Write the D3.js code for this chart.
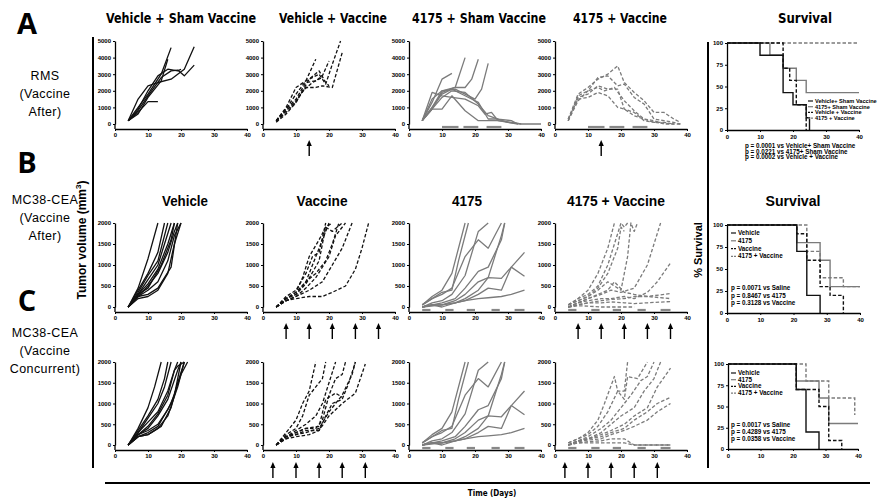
<!DOCTYPE html>
<html>
<head>
<meta charset="utf-8">
<script src="https://cdn.jsdelivr.net/npm/d3@7"></script>
<style>
  body { margin: 0; background: #fff; }
  svg { font-family: "Liberation Sans", Arial, sans-serif; }
</style>
</head>
<body>
<div id="chart"></div>
<script>
// ---------- tumor growth, one [day, volume] list per mouse ----------
// A: RMS (vaccine after)
const rmsVehicleSham = [
  [[4,200],[7,700],[10,1350],[13,1350]],
  [[4,200],[7,1000],[10,1800],[14,3000],[17,4600]],
  [[4,200],[7,1500],[10,2300],[13,2500],[17,2700],[21,3300],[24,4650]],
  [[4,200],[7,800],[10,1700],[14,2800],[17,3200],[19,3250],[21,2900],[24,3550]],
  [[4,200],[7,600],[10,1600],[14,2600],[16,3900]],
  [[4,200],[7,900],[10,2000],[13,2900],[16,3300],[19,3200],[20,3300]]
];
const rmsVehicleVaccine = [
  [[4,200],[7,900],[10,1800],[13,2600],[16,3900]],
  [[4,200],[7,1000],[10,2200],[13,2600],[17,3000],[19,2400],[21,3600],[23.5,5000]],
  [[4,150],[7,800],[10,1400],[13,2200],[16,2200],[18,2300],[21,2200],[24,4300]],
  [[4,200],[7,700],[10,1300],[14,2700],[17,3200],[19,2500],[20,2300]],
  [[4,200],[7,900],[10,1500],[13,2500],[16,2600],[18,2900],[20,3800]],
  [[4,100],[7,600],[10,1300],[12,2000],[15,2500],[18,2800]]
];
const rms4175Sham = [
  [[4,200],[7,1900],[10,1700],[13,1600],[17,1500],[21,1100],[23,600],[25,700],[27,200],[31,100],[34,0],[40,0]],
  [[4,200],[7,1300],[10,2700],[13,3050]],
  [[4,200],[7,1500],[10,2000],[14,2200],[17,4000]],
  [[4,200],[7,900],[10,1900],[14,2200],[17,2200],[19,2700],[21,3900]],
  [[4,200],[7,1000],[10,2000],[14,2100],[17,1800],[20,1500],[22,2100],[24,3650]],
  [[4,200],[7,900],[10,900],[13,1700],[17,800],[21,200],[24,200],[27,200],[30,100],[33,0]],
  [[4,200],[7,1000],[10,1800],[13,2100],[17,1700],[21,1300],[24,300],[27,300],[30,100],[34,0]],
  [[4,200],[10,1600],[13,2000],[17,1900],[21,1200],[24,500],[27,300],[31,200],[33,0]]
];
const rms4175Vaccine = [
  [[4,300],[7,1800],[10,2200],[13,2700],[16,3000],[19,3500],[21,2500],[24,1900],[27,1400],[30,700],[33,700],[36,300],[38,100]],
  [[4,200],[7,1400],[10,2000],[13,2800],[16,2900],[19,2300],[21,2400],[24,1600],[27,1200],[30,300],[33,200],[36,100],[38,0]],
  [[4,200],[7,1600],[10,1800],[13,2300],[16,2100],[19,2100],[21,900],[24,700],[27,200],[30,100],[33,100],[36,0]],
  [[4,300],[7,1500],[10,1600],[13,1900],[16,1700],[19,1000],[21,900],[24,500],[27,300],[30,100],[36,0]],
  [[4,200],[7,1700],[10,2000],[13,2200],[15,2000],[18,2200],[21,1400],[24,800],[27,300],[30,200],[33,0],[38,0]]
];

// B: MC38-CEA (vaccine after)
const mcVehicle = [
  [[4,0],[7,450],[10,1150],[13,2000]],
  [[4,0],[7,400],[10,800],[13,1300],[15,2000]],
  [[4,0],[7,350],[10,750],[13,1100],[16,2000]],
  [[4,0],[7,300],[10,650],[13,1000],[15,1500],[17,2000]],
  [[4,0],[7,300],[10,550],[13,900],[16,1500],[18,2000]],
  [[4,0],[7,250],[10,500],[13,800],[16,1300],[18,1800],[19,2000]],
  [[4,0],[7,250],[10,400],[13,600],[16,1100],[18,1700],[20,2000]],
  [[4,0],[7,250],[10,300],[13,450],[17,950],[19,2000]],
  [[4,0],[7,200],[10,250],[13,400],[16,800],[18,1500],[20,2000]],
  [[4,0],[7,300],[10,450],[14,1000],[17,1600],[18,2000]]
];
const mcVaccine = [
  [[4,0],[7,250],[10,400],[13,800],[15,1200],[17,1300],[19,2000]],
  [[4,0],[7,200],[10,350],[13,600],[15,1000],[17,1400],[19,1800],[20,2000]],
  [[4,0],[7,200],[10,300],[13,550],[17,1100],[19,1900],[21,1800],[24,2000]],
  [[4,0],[7,150],[10,250],[13,450],[16,700],[20,1200],[22,1700],[25,2000]],
  [[4,0],[7,150],[10,250],[14,400],[18,600],[21,1000],[24,1400],[27,2000]],
  [[4,0],[7,150],[10,200],[14,250],[18,250],[21,350],[25,500],[28,900],[30,1400],[32,2000]],
  [[4,0],[7,200],[10,350],[12,700],[14,1200],[17,1600],[19,1900],[21,2000]],
  [[4,0],[7,200],[10,300],[13,600],[16,800],[19,1100],[21,1500],[23,2000]]
];
const mc4175 = [
  [[4,50],[7,250],[10,400],[13,800],[17,2000]],
  [[4,50],[7,200],[10,350],[13,400],[15,1100],[18,2000]],
  [[4,50],[7,200],[10,300],[13,450],[17,1200],[21,1600],[24,1400],[28,2000]],
  [[4,0],[7,100],[10,150],[13,300],[17,750],[21,1800],[24,2000]],
  [[4,0],[7,50],[10,100],[14,200],[17,450],[21,850],[24,950],[28,1600],[29,2000]],
  [[4,0],[7,50],[10,50],[14,150],[17,300],[21,600],[24,700],[28,1700],[29,2000]],
  [[4,0],[7,50],[10,50],[14,100],[17,200],[21,400],[24,700],[28,680],[31,950],[35,730]],
  [[4,0],[7,50],[10,0],[14,100],[17,150],[21,300],[24,450],[28,400],[31,950],[35,1300]],
  [[4,0],[10,50],[14,100],[17,150],[21,200],[24,220],[28,250],[31,300],[35,400]]
];
const mc4175Vaccine = [
  [[4,50],[7,200],[10,400],[13,800],[16,1400],[18,2000]],
  [[4,50],[7,200],[10,300],[13,500],[16,1000],[18,1500],[20,2000],[21,1900],[22,2000]],
  [[4,50],[7,150],[10,250],[13,450],[16,800],[19,1400],[20,1900],[21,1800]],
  [[4,50],[7,150],[10,250],[13,400],[16,600],[18,500],[20,400],[22,1200],[23,2000],[24,1800],[25,2000]],
  [[4,0],[7,100],[10,200],[14,300],[17,400],[20,350],[24,450],[28,1000],[32,2000]],
  [[4,0],[7,100],[10,150],[14,200],[17,200],[21,250],[24,200],[28,350],[31,600],[35,1050]],
  [[4,0],[7,50],[10,100],[14,150],[17,180],[21,200],[24,250],[28,250],[35,320]],
  [[4,0],[7,50],[10,100],[14,100],[17,120],[21,100],[24,80],[28,100],[35,130]],
  [[4,0],[7,100],[10,200],[13,300],[16,400],[18,600],[21,350],[24,300],[28,250],[35,200]],
  [[4,0],[7,30],[10,20],[14,0],[17,0],[24,0]]
];

// C: MC38-CEA (vaccine concurrent)
const mccVehicle = [
  [[4,0],[7,400],[10,900],[12,1400],[14,2000]],
  [[4,0],[7,350],[10,700],[13,1100],[15,1600],[16,2000]],
  [[4,0],[7,300],[10,650],[13,1000],[15,1400],[17,2000]],
  [[4,0],[7,300],[10,550],[13,800],[16,1300],[18,1800],[19,2000]],
  [[4,0],[7,250],[10,400],[13,700],[16,1100],[19,1800],[20,2000]],
  [[4,0],[7,250],[10,350],[13,500],[16,850],[18,1200],[20,2000]],
  [[4,0],[7,200],[10,250],[14,450],[17,900],[19,1500],[21,2000]],
  [[4,0],[7,200],[10,300],[13,450],[17,1000],[20,1700],[22,2000]],
  [[4,0],[7,250],[10,450],[13,750],[16,1200],[18,1800],[19,1900],[21,2000]],
  [[4,0],[7,200],[10,250],[13,400],[16,700],[19,1400],[21,2000]]
];
const mccVaccine = [
  [[4,0],[7,300],[10,600],[12,1000],[14,1300],[16,2000]],
  [[4,0],[7,250],[10,400],[12,700],[14,1200],[16,1400],[18,1600],[19,2000]],
  [[4,0],[7,200],[10,350],[13,500],[16,700],[18,1000],[20,1500],[22,2000]],
  [[4,0],[7,200],[10,300],[13,400],[16,400],[18,600],[20,1200],[22,1600],[24,1700],[25,2000]],
  [[4,0],[7,200],[10,250],[13,350],[17,350],[19,700],[21,1000],[24,1100],[26,1500],[28,2000]],
  [[4,0],[7,200],[10,250],[13,300],[17,400],[20,800],[24,1200],[27,1700],[28,2000]],
  [[4,0],[7,150],[10,200],[14,250],[17,350],[20,700],[24,1000],[28,1250],[31,1950]],
  [[4,0],[7,150],[10,300],[13,400],[17,450],[19,1100],[22,1250],[24,1150]]
];
const mcc4175 = mc4175;
const mcc4175Vaccine = [
  [[4,50],[7,150],[10,300],[13,600],[15,1000],[18,1650],[19,1300],[21,1300],[22,2000]],
  [[4,50],[7,150],[10,250],[13,450],[16,800],[19,1300],[21,1100],[22,1650],[25,1600],[28,2000]],
  [[4,0],[7,100],[10,200],[14,400],[17,600],[20,900],[23,1200],[26,1550],[28,1650],[30,2000]],
  [[4,0],[7,100],[10,150],[14,300],[17,500],[20,700],[24,900],[27,1300],[30,1600],[32,2000]],
  [[4,0],[7,100],[10,150],[14,250],[17,350],[21,500],[24,700],[28,900],[31,1400],[35,1850]],
  [[4,0],[7,100],[10,150],[14,200],[17,300],[21,400],[24,600],[28,800],[31,1000],[35,1150]],
  [[4,0],[7,80],[10,120],[14,150],[17,250],[21,350],[24,450],[28,600],[31,800],[35,1000]],
  [[4,0],[7,50],[10,80],[14,100],[17,150],[21,150],[24,0],[35,0]],
  [[4,0],[7,50],[10,50],[14,50],[17,50],[21,50],[24,0],[35,0]]
];

// 4175 treatment windows (days) and vaccine days (arrows)
const rmsTreatDays = [[10,15],[16.5,21],[23.5,28]];
const mcTreatDays = [[4,6.5],[11,13.5],[17.5,20],[25,27.5],[32,35]];
const rmsVaccineDays = [14];
const mcAfterVaccineDays = [7,14,21,28,35];
const mcConcVaccineDays = [3,10,17,24,31];

// ---------- survival, [day, % surviving] step points ----------
const survivalNamesA = ["Vehicle+ Sham Vaccine","4175+ Sham Vaccine","Vehicle + Vaccine","4175 + Vaccine"];
const survivalA = [
  [[0,100],[10,86],[17,43],[20,29],[24,14],[25,0]],
  [[0,100],[13,86],[17,71],[21,57],[24,43],[40,43]],
  [[0,100],[17,71],[19,57],[21,29],[24,0]],
  [[0,100],[40,100]]
];
const pValuesA = ["p = 0.0001 vs  Vehicle+ Sham Vaccine","p = 0.0221 vs  4175+ Sham Vaccine","p = 0.0002 vs  Vehicle + Vaccine"];

const survivalNamesBC = ["Vehicle","4175","Vaccine","4175 + Vaccine"];
const survivalB = [
  [[0,100],[21,70],[24,20],[28,0]],
  [[0,100],[21,80],[28,60],[31,30],[40,30]],
  [[0,100],[21,90],[24,60],[28,30],[31,20],[35,0]],
  [[0,100],[24,70],[28,40],[35,30],[40,30]]
];
const pValuesB = ["p = 0.0071 vs Saline","p = 0.8467 vs 4175","p = 0.3128 vs Vaccine"];
const survivalC = [
  [[0,100],[21,70],[24,20],[28,0]],
  [[0,100],[21,80],[28,60],[31,30],[40,30]],
  [[0,100],[21,70],[28,50],[31,10],[35,0]],
  [[0,100],[24,80],[31,60],[39,40]]
];
const pValuesC = ["p = 0.0017 vs Saline","p = 0.4289 vs 4175","p = 0.0358 vs Vaccine"];

const colTitlesA = ["Vehicle + Sham Vaccine","Vehicle + Vaccine","4175 + Sham Vaccine","4175 + Vaccine"];
const colTitlesB = ["Vehicle","Vaccine","4175","4175 + Vaccine"];

// ---------- styles ----------
const BLACK = "#111", GRAY = "#7b7b7b";
const groupStyles = [
  { color: BLACK, dash: null },
  { color: GRAY, dash: null },
  { color: BLACK, dash: "3.5,2" },
  { color: GRAY, dash: "3.5,2" }
];
// growth panel order: vehicle, vaccine, 4175, 4175+vaccine
const panelStyles = [groupStyles[0], groupStyles[2], groupStyles[1], groupStyles[3]];

const svg = d3.select("#chart").append("svg")
  .attr("width", 882).attr("height", 500);

const colX = [115, 263, 409, 555];
const panelW = 132;
const rows = [
  { yTop: 41, yZero: 124, axisY: 129, yMax: 5000, yTicks: [0,1000,2000,3000,4000,5000] },
  { yTop: 223, yZero: 307, axisY: 312, yMax: 2000, yTicks: [0,500,1000,1500,2000] },
  { yTop: 362, yZero: 445, axisY: 450, yMax: 2000, yTicks: [0,500,1000,1500,2000] }
];
const NARROW = "Liberation Sans Narrow, DejaVu Sans Condensed, sans-serif";

function styleAxis(g) {
  g.selectAll(".domain").attr("stroke", "#000").attr("stroke-width", 1.3);
  g.selectAll(".tick line").attr("stroke", "#000").attr("stroke-width", 1);
  g.selectAll(".tick text")
    .attr("font-size", 6).attr("font-weight", "bold")
    .attr("font-family", "Liberation Sans, Arial, sans-serif");
}

function drawGrowth(row, col, curves, treat, arrows, arrowY) {
  const x0 = colX[col];
  const st = panelStyles[col];
  const x = d3.scaleLinear().domain([0, 40]).range([x0, x0 + panelW]);
  const y = d3.scaleLinear().domain([0, row.yMax]).range([row.yZero, row.yTop]);
  const g = svg.append("g");

  g.selectAll("path.curve").data(curves).join("path")
    .attr("class", "curve")
    .attr("fill", "none")
    .attr("stroke", st.color)
    .attr("stroke-width", 1.3)
    .attr("stroke-linejoin", "round")
    .attr("stroke-dasharray", st.dash)
    .attr("d", d3.line().x(d => x(d[0])).y(d => y(d[1])));

  // 4175 treatment bars sit between zero and the x axis
  if (treat) {
    const by = (row.yZero + row.axisY) / 2 + 0.5;
    g.selectAll("line.treat").data(treat).join("line")
      .attr("x1", d => x(d[0])).attr("x2", d => x(d[1]))
      .attr("y1", by).attr("y2", by)
      .attr("stroke", "#888").attr("stroke-width", 2.2);
  }

  const xa = g.append("g").attr("transform", `translate(0,${row.axisY})`)
    .call(d3.axisBottom(x).tickValues([0,10,20,30,40]).tickFormat(d3.format("d"))
      .tickSize(2).tickSizeOuter(0).tickPadding(2));
  styleAxis(xa);
  const ya = g.append("g").attr("transform", `translate(${x0},0)`)
    .call(d3.axisLeft(y).tickValues(row.yTicks).tickFormat(d3.format("d"))
      .tickSize(2).tickSizeOuter(0).tickPadding(2));
  styleAxis(ya);
  g.append("line").attr("x1", x0).attr("x2", x0).attr("y1", row.yZero).attr("y2", row.axisY)
    .attr("stroke", "#000").attr("stroke-width", 1.3);

  if (arrows) arrows.forEach(dd => drawArrow(x(dd), arrowY));
}

function drawArrow(ax, ay) {
  svg.append("line").attr("x1", ax).attr("x2", ax).attr("y1", ay + 4).attr("y2", ay + 16)
    .attr("stroke", "#000").attr("stroke-width", 1.4);
  svg.append("path").attr("d", `M${ax},${ay} L${ax - 2.6},${ay + 6} L${ax + 2.6},${ay + 6} Z`)
    .attr("fill", "#000");
}

function drawSurvival(cfg, curves, names, pvals, legend) {
  const x = d3.scaleLinear().domain([0, 40]).range([cfg.x0, cfg.x1]);
  const y = d3.scaleLinear().domain([0, 100]).range([cfg.y0, cfg.y1]);
  const g = svg.append("g");
  const line = d3.line().x(d => x(d[0])).y(d => y(d[1])).curve(d3.curveStepAfter);
  // grays first so the black steps stay on top
  [3, 1, 2, 0].forEach(i => {
    g.append("path").datum(curves[i])
      .attr("fill", "none")
      .attr("stroke", groupStyles[i].color)
      .attr("stroke-width", 1.4)
      .attr("stroke-dasharray", groupStyles[i].dash)
      .attr("d", line);
  });
  const xa = g.append("g").attr("transform", `translate(0,${cfg.y0})`)
    .call(d3.axisBottom(x).tickValues([0,10,20,30,40]).tickFormat(d3.format("d"))
      .tickSize(2).tickSizeOuter(0).tickPadding(3));
  styleAxis(xa);
  const ya = g.append("g").attr("transform", `translate(${cfg.x0},0)`)
    .call(d3.axisLeft(y).tickValues([0,25,50,75,100]).tickFormat(d3.format("d"))
      .tickSize(2).tickSizeOuter(0).tickPadding(2));
  styleAxis(ya);

  names.forEach((n, i) => {
    const ly = legend.y + i * legend.dy;
    g.append("line")
      .attr("x1", legend.x).attr("x2", legend.x + 5)
      .attr("y1", ly - 2).attr("y2", ly - 2)
      .attr("stroke", groupStyles[i].color).attr("stroke-width", 1.2)
      .attr("stroke-dasharray", groupStyles[i].dash ? "2,1" : null);
    g.append("text").attr("x", legend.x + 7).attr("y", ly)
      .attr("font-size", legend.size).attr("font-weight", "bold").text(n);
  });
  pvals.forEach((p, i) => {
    g.append("text").attr("x", cfg.px).attr("y", cfg.py + i * cfg.pdy)
      .attr("font-size", 6.3).attr("font-weight", "bold").text(p);
  });
}

// ---------- frame ----------
svg.append("line").attr("x1", 93).attr("x2", 93).attr("y1", 37).attr("y2", 468)
  .attr("stroke", "#000").attr("stroke-width", 2);
svg.append("line").attr("x1", 708).attr("x2", 708).attr("y1", 42).attr("y2", 468)
  .attr("stroke", "#000").attr("stroke-width", 2);
svg.append("line").attr("x1", 105).attr("x2", 870).attr("y1", 483).attr("y2", 483)
  .attr("stroke", "#000").attr("stroke-width", 2);
svg.append("text").attr("x", 492).attr("y", 496).attr("text-anchor", "middle")
  .attr("font-size", 8).attr("font-weight", "bold")
  .attr("font-family", NARROW).attr("font-stretch", "condensed").text("Time (Days)");

// row labels
const rowLetters = [
  { t: "A", y: 34, lines: ["RMS", "(Vaccine", "After)"], ly: 80 },
  { t: "B", y: 173, lines: ["MC38-CEA", "(Vaccine", "After)"], ly: 204 },
  { t: "C", y: 311, lines: ["MC38-CEA", "(Vaccine", "Concurrent)"], ly: 337 }
];
rowLetters.forEach(r => {
  svg.append("text").attr("x", 27).attr("y", r.y).attr("text-anchor", "middle")
    .attr("font-size", 29).attr("font-weight", "bold")
    .attr("font-family", "Open Sans, Liberation Sans, sans-serif").text(r.t);
  r.lines.forEach((l, i) => {
    svg.append("text").attr("x", 45).attr("y", r.ly + i * 18).attr("text-anchor", "middle")
      .attr("font-size", 12.5).attr("letter-spacing", 0.4).text(l);
  });
});

// y axis titles
svg.append("text").attr("transform", "translate(86,240) rotate(-90)")
  .attr("text-anchor", "middle").attr("font-size", 12).attr("font-weight", "bold")
  .call(t => {
    t.append("tspan").text("Tumor volume (mm");
    t.append("tspan").attr("font-size", 8).attr("dy", -5).text("3");
    t.append("tspan").attr("dy", 5).text(")");
  });
svg.append("text").attr("transform", "translate(702,250) rotate(-90)")
  .attr("text-anchor", "middle").attr("font-size", 11).attr("font-weight", "bold")
  .text("% Survival");

// column titles, row A (condensed face)
const titleCentersA = [181, 333, 479, 620, 805];
const titleWidthsA = [150, 108, 134, 94, 54];
colTitlesA.concat(["Survival"]).forEach((t, i) => {
  svg.append("text").attr("x", titleCentersA[i]).attr("y", 23).attr("text-anchor", "middle")
    .attr("font-size", 14).attr("font-weight", "bold")
    .attr("font-family", NARROW).attr("font-stretch", "condensed")
    .attr("textLength", titleWidthsA[i]).attr("lengthAdjust", "spacingAndGlyphs").text(t);
});

// column titles, row B
const titleCentersB = [185, 322, 467, 616, 793];
const titleWidthsB = [46, 51, 30, 98, 55];
colTitlesB.concat(["Survival"]).forEach((t, i) => {
  svg.append("text").attr("x", titleCentersB[i]).attr("y", 206).attr("text-anchor", "middle")
    .attr("font-size", 14).attr("font-weight", "bold")
    .attr("textLength", titleWidthsB[i]).attr("lengthAdjust", "spacingAndGlyphs").text(t);
});

// ---------- growth panels ----------
drawGrowth(rows[0], 0, rmsVehicleSham, null, null);
drawGrowth(rows[0], 1, rmsVehicleVaccine, null, rmsVaccineDays, 140);
drawGrowth(rows[0], 2, rms4175Sham, rmsTreatDays, null);
drawGrowth(rows[0], 3, rms4175Vaccine, rmsTreatDays, rmsVaccineDays, 140);

drawGrowth(rows[1], 0, mcVehicle, null, null);
drawGrowth(rows[1], 1, mcVaccine, null, mcAfterVaccineDays, 323);
drawGrowth(rows[1], 2, mc4175, mcTreatDays, null);
drawGrowth(rows[1], 3, mc4175Vaccine, mcTreatDays, mcAfterVaccineDays, 323);

drawGrowth(rows[2], 0, mccVehicle, null, null);
drawGrowth(rows[2], 1, mccVaccine, null, mcConcVaccineDays, 462);
drawGrowth(rows[2], 2, mcc4175, mcTreatDays, null);
drawGrowth(rows[2], 3, mcc4175Vaccine, mcTreatDays, mcConcVaccineDays, 462);

// ---------- survival panels ----------
drawSurvival({ x0: 727, x1: 859, y0: 130, y1: 43, px: 745, py: 148, pdy: 5.6 },
  survivalA, survivalNamesA, pValuesA, { x: 808, y: 103, dy: 5.7, size: 5.6 });
drawSurvival({ x0: 727, x1: 860, y0: 313, y1: 225, px: 731, py: 290, pdy: 7.5 },
  survivalB, survivalNamesBC, pValuesB, { x: 731, y: 235, dy: 7.8, size: 6.3 });
drawSurvival({ x0: 728, x1: 858, y0: 449, y1: 364, px: 731, py: 427, pdy: 6.8 },
  survivalC, survivalNamesBC, pValuesC, { x: 731, y: 375, dy: 6.7, size: 6.3 });
</script>
</body>
</html>
